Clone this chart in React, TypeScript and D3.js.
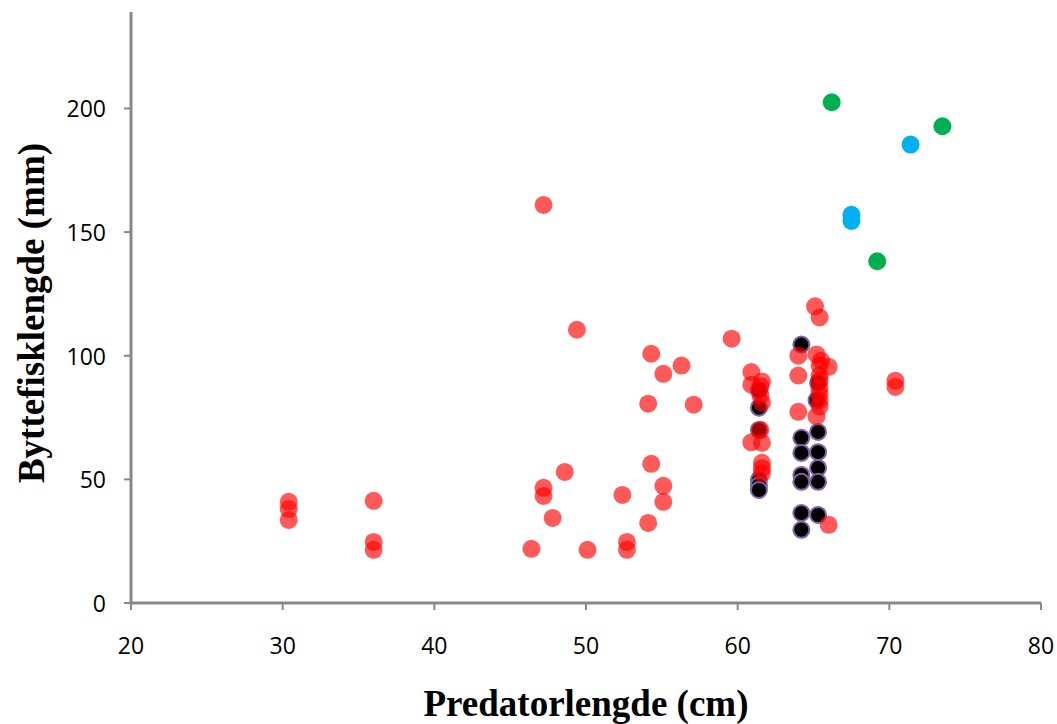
import React from "react";
import * as d3 from "d3";

// Predator length (cm) vs prey fish length (mm), four groups
const redX = [30.4, 30.4, 30.4, 36.0, 36.0, 36.0, 46.4, 47.2, 47.2, 47.2, 47.8, 48.6, 49.4, 50.1, 52.4, 52.7, 52.7, 54.1, 54.3, 54.3, 54.1, 55.1, 55.1, 55.1, 56.3, 57.1, 59.6, 60.9, 60.9, 60.9, 61.6, 61.5, 61.5, 61.6, 61.5, 61.6, 61.6, 61.6, 61.6, 64.0, 64.0, 64.0, 65.1, 65.4, 65.2, 65.5, 66.0, 65.4, 65.4, 65.4, 65.4, 65.4, 65.4, 65.4, 65.2, 66.0, 70.4, 70.4];
const redY = [40.9, 38.0, 33.6, 41.3, 24.7, 21.5, 21.9, 46.6, 43.3, 161, 34.4, 53, 110.5, 21.5, 43.7, 24.7, 21.5, 32.4, 56.3, 100.8, 80.6, 47.4, 40.9, 92.7, 96, 80.2, 106.9, 93.4, 88.3, 65, 89.6, 87.6, 84, 81, 70, 64.8, 56.7, 54.5, 52.5, 100, 92, 77.3, 120, 115.5, 100.5, 98, 95.5, 96, 92, 90, 87, 84.5, 82, 79.5, 75.5, 31.6, 89.9, 87.4];

const blackX = [61.4, 61.4, 61.4, 61.4, 61.4, 61.4, 64.2, 64.2, 64.2, 64.2, 64.2, 64.2, 64.2, 65.3, 65.2, 65.3, 65.3, 65.3, 65.3, 65.3];
const blackY = [86, 79, 70, 49.8, 47.6, 45.7, 104.5, 66.8, 60.7, 51.8, 49, 36.4, 29.6, 89, 82, 69.2, 61, 54.6, 49, 35.6];

const blueX = [67.5, 67.5, 71.4];
const blueY = [157, 154.5, 185.4];

const greenX = [66.2, 69.2, 73.5];
const greenY = [202.5, 138.2, 192.8];

const xTicks = [20, 30, 40, 50, 60, 70, 80];
const yTicks = [0, 50, 100, 150, 200];

const W = 1057;
const H = 724;
const left = 131;
const right = 1041;
const top = 12;
const bottom = 603;

export default function App() {
  const x = d3.scaleLinear().domain([20, 80]).range([left, right]);
  const y = d3.scaleLinear().domain([0, 239]).range([bottom, top]);
  const axisColor = "#888888";
  const r = 9;

  const pts = (xs: number[], ys: number[]) => xs.map((v, i) => [x(v), y(ys[i])]);

  return (
    <svg
      width={W}
      height={H}
      style={{ position: "absolute", left: 0, top: 0, background: "#fff" }}
    >
      {/* black series under the others */}
      {pts(blackX, blackY).map(([cx, cy], i) => (
        <circle key={"b" + i} cx={cx} cy={cy} r={r - 1} fill="#000" stroke="#7E64A2" strokeWidth={2} />
      ))}
      {pts(redX, redY).map(([cx, cy], i) => (
        <circle key={"r" + i} cx={cx} cy={cy} r={r} fill="#FF0000" fillOpacity={0.65} />
      ))}
      {pts(blueX, blueY).map(([cx, cy], i) => (
        <circle key={"u" + i} cx={cx} cy={cy} r={r} fill="#00B0F0" />
      ))}
      {pts(greenX, greenY).map(([cx, cy], i) => (
        <circle key={"g" + i} cx={cx} cy={cy} r={r} fill="#00B050" />
      ))}

      {/* axes */}
      <line x1={left} x2={left} y1={top} y2={bottom} stroke={axisColor} strokeWidth={3} />
      <line x1={left - 1.5} x2={right} y1={bottom} y2={bottom} stroke={axisColor} strokeWidth={3} />
      {yTicks.map((t) => (
        <g key={"yt" + t}>
          <line x1={left - 7} x2={left} y1={y(t)} y2={y(t)} stroke={axisColor} strokeWidth={2} />
          <text
            x={106}
            y={y(t)}
            textAnchor="end"
            dominantBaseline="central"
            fontFamily="'Open Sans', sans-serif"
            fontSize={23}
            fill="#000"
          >
            {t}
          </text>
        </g>
      ))}
      {xTicks.map((t) => (
        <g key={"xt" + t}>
          <line x1={x(t)} x2={x(t)} y1={bottom} y2={bottom + 7} stroke={axisColor} strokeWidth={2} />
          <text
            x={x(t)}
            y={645}
            textAnchor="middle"
            dominantBaseline="central"
            fontFamily="'Open Sans', sans-serif"
            fontSize={23}
            fill="#000"
          >
            {t}
          </text>
        </g>
      ))}

      <text
        transform={`translate(44, 313) rotate(-90)`}
        textAnchor="middle"
        fontFamily="'Liberation Serif', 'Times New Roman', serif"
        fontWeight="bold"
        fontSize={37}
        fill="#000"
      >
        Byttefisklengde (mm)
      </text>
      <text
        x={586}
        y={716}
        textAnchor="middle"
        fontFamily="'Liberation Serif', 'Times New Roman', serif"
        fontWeight="bold"
        fontSize={37}
        fill="#000"
      >
        Predatorlengde (cm)
      </text>
    </svg>
  );
}
